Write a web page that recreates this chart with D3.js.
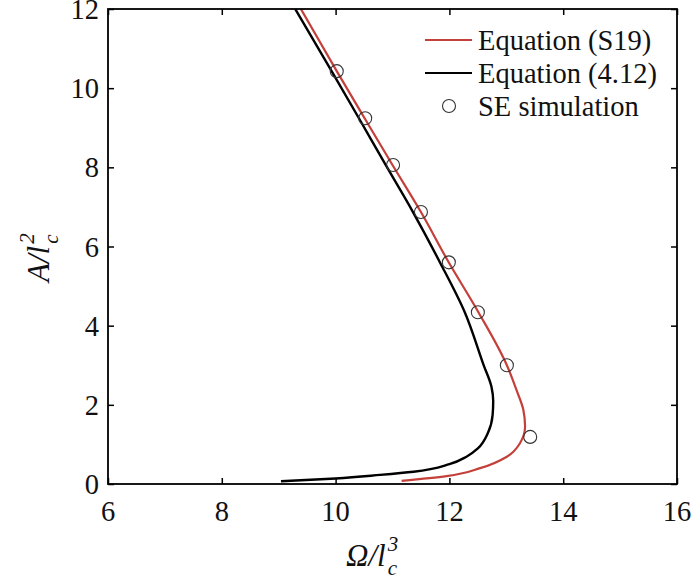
<!DOCTYPE html>
<html><head><meta charset="utf-8">
<script src="https://cdn.jsdelivr.net/npm/d3@7"></script>
<style>svg text, svg tspan { font-family: "Liberation Serif" !important; }</style>
</head><body style="margin:0"><svg id="c" width="694" height="583" style="font-family:'Liberation Serif'"></svg>
<script>
const xTicks=[6,8,10,12,14,16];
const yTicks=[0,2,4,6,8,10,12];
// Equation (S19)
const redX=[11.16,11.95,12.54,13.01,13.24,13.33,13.30,13.18,13.01,12.51,11.98,11.5,11.0,10.51,10.02,9.39];
const redY=[0.08,0.2,0.4,0.69,1.03,1.45,1.87,2.37,3.0,4.34,5.62,6.87,8.06,9.24,10.43,12.0];
// Equation (4.12)
const blackX=[9.04,10.0,10.78,11.37,12.0,12.3,12.5,12.68,12.76,12.77,12.74,12.6,12.27,11.83,11.36,10.88,10.41,9.93,9.29];
const blackY=[0.07,0.14,0.23,0.31,0.5,0.69,0.9,1.3,1.75,2.1,2.45,3.01,4.34,5.61,6.87,8.06,9.24,10.43,12.0];
// SE simulation
const simX=[10.02,10.52,11.01,11.5,11.99,12.5,13.01,13.42];
const simY=[10.43,9.24,8.06,6.87,5.6,4.34,3.0,1.19];
const legendLabels=["Equation (S19)","Equation (4.12)","SE simulation"];
const redColor="#c4403a";

const svg=d3.select("#c");
const L=108,R=677,T=9,B=484;
const x=d3.scaleLinear().domain([6,16]).range([L,R]);
const y=d3.scaleLinear().domain([0,12]).range([B,T]);
const fs=28.5;

const line=d3.line().x(d=>x(d[0])).y(d=>y(d[1])).curve(d3.curveMonotoneY);
svg.append("clipPath").attr("id","pc").append("rect").attr("x",L).attr("y",T).attr("width",R-L).attr("height",B-T);
const g=svg.append("g").attr("clip-path","url(#pc)");
g.append("path").datum(blackX.map((v,i)=>[v,blackY[i]])).attr("d",line).attr("fill","none").attr("stroke","#000").attr("stroke-width",2.4);
g.append("path").datum(redX.map((v,i)=>[v,redY[i]])).attr("d",line).attr("fill","none").attr("stroke",redColor).attr("stroke-width",2.2);
g.selectAll("circle.sim").data(simX.map((v,i)=>[v,simY[i]])).enter().append("circle").attr("class","sim")
 .attr("cx",d=>x(d[0])).attr("cy",d=>y(d[1])).attr("r",6.5).attr("fill","none").attr("stroke","#333").attr("stroke-width",1.1);

function styleAxis(sel){sel.attr("font-family",null).attr("font-size",null);sel.select(".domain").remove();sel.selectAll("line").attr("stroke","#000").attr("stroke-width",1.5);sel.selectAll("text").remove();}
svg.append("g").attr("transform",`translate(0,${B})`).call(d3.axisBottom(x).tickValues(xTicks).tickSize(-6)).call(styleAxis);
svg.append("g").attr("transform",`translate(0,${T})`).call(d3.axisTop(x).tickValues(xTicks).tickSize(-6)).call(styleAxis);
svg.append("g").attr("transform",`translate(${L},0)`).call(d3.axisLeft(y).tickValues(yTicks).tickSize(-6)).call(styleAxis);
svg.append("g").attr("transform",`translate(${R},0)`).call(d3.axisRight(y).tickValues(yTicks).tickSize(-6)).call(styleAxis);
svg.append("rect").attr("x",L).attr("y",T).attr("width",R-L).attr("height",B-T).attr("fill","none").attr("stroke","#000").attr("stroke-width",1.8);

function ft(sel){return sel.style("font-family",'"Liberation Serif"').attr("fill","#111");}
svg.selectAll("text.xt").data(xTicks).enter().append("text").attr("class","xt").attr("x",d=>x(d)).attr("y",B+37).attr("text-anchor","middle").attr("font-size",fs).call(ft).text(d=>d);
svg.selectAll("text.yt").data(yTicks).enter().append("text").attr("class","yt").attr("x",L-9).attr("y",d=>y(d)+10).attr("text-anchor","end").attr("font-size",fs).call(ft).text(d=>d);

// x label
const xl=svg.append("text").attr("x",346).attr("y",566).attr("font-size",31).style("font-style","italic").call(ft);
xl.append("tspan").text("Ω/l");
xl.append("tspan").attr("font-size",21).attr("dx",2).attr("dy",-15).text("3");
xl.append("tspan").attr("font-size",21).attr("dx",-10.5).attr("dy",24).text("c");
// y label
const yl=svg.append("text").attr("transform","translate(49,282) rotate(-90)").attr("font-size",31).style("font-style","italic").call(ft);
yl.append("tspan").text("A/l");
yl.append("tspan").attr("font-size",21).attr("dx",2).attr("dy",-15).text("2");
yl.append("tspan").attr("font-size",21).attr("dx",-10.5).attr("dy",24).text("c");

// legend
const ly=[40,73,106];
svg.append("line").attr("x1",425).attr("x2",472).attr("y1",ly[0]).attr("y2",ly[0]).attr("stroke",redColor).attr("stroke-width",2);
svg.append("line").attr("x1",425).attr("x2",472).attr("y1",ly[1]).attr("y2",ly[1]).attr("stroke","#000").attr("stroke-width",2);
svg.append("circle").attr("cx",449).attr("cy",ly[2]).attr("r",6.5).attr("fill","none").attr("stroke","#333").attr("stroke-width",1.1);
svg.selectAll("text.lg").data(legendLabels).enter().append("text").attr("class","lg").attr("x",478).attr("y",(d,i)=>ly[i]+10).attr("font-size",fs).call(ft).text(d=>d);
</script></body></html>
